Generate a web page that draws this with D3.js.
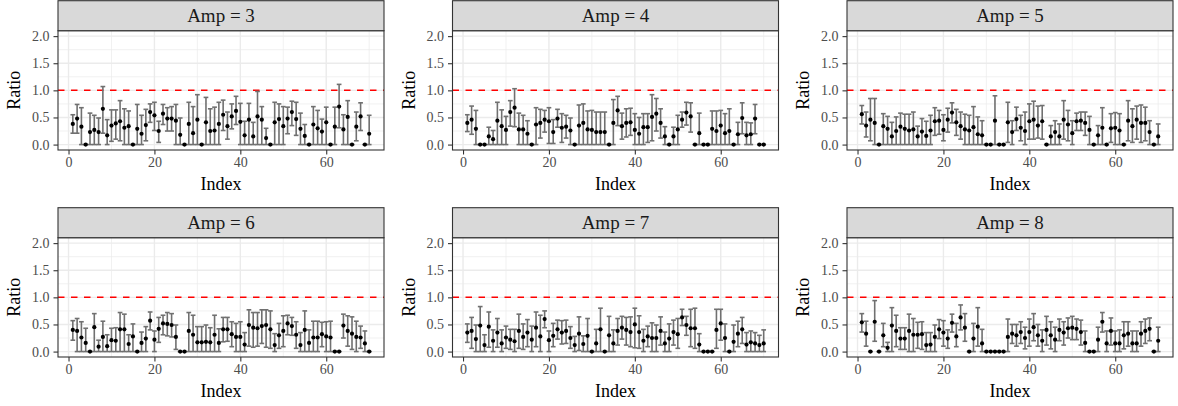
<!DOCTYPE html>
<html>
<head>
<meta charset="utf-8">
<script src="https://cdn.jsdelivr.net/npm/d3@7"></script>
<style>
  body { margin: 0; background: #fff; }
  svg { display: block; }
  text { font-family: "Liberation Serif", "Times New Roman", serif; }
</style>
</head>
<body>
<div id="chart"></div>
<script>
// facets, ticks
var amps = [3, 4, 5, 6, 7, 8];
var indexValues = d3.range(1, 71);
var yTicks = [0, 0.5, 1, 1.5, 2];
var yMinor = [0.25, 0.75, 1.25, 1.75];
var xTicks = [0, 20, 40, 60];
var xMinor = [10, 30, 50, 70];
var refLine = 1;

// Amp = 3
var ratioAmp3 = [0.38,0.48,0.33,0,0.23,0.27,0.23,0.66,0.17,0.35,
  0.39,0.43,0.31,0.34,0,0.29,0.2,0.36,0.6,0.54,
  0.25,0.57,0.48,0.48,0.44,0.18,0,0.38,0.21,0.46,
  0,0.41,0.25,0.26,0.38,0.55,0.34,0.52,0.62,0.42,
  0.17,0.46,0.15,0.52,0.46,0.12,0,0.41,0.47,0.34,
  0.48,0.6,0.47,0.29,0.16,0,0.37,0.3,0.24,0.41,
  0,0.33,0.7,0.28,0.51,0,0.33,0.52,0,0.2];
var upperAmp3 = [0.55,0.74,0.68,0,0.58,0.54,0.49,1.07,0.46,0.64,
  0.64,0.81,0.66,0.62,0,0.74,0.54,0.65,0.75,0.78,
  0.43,0.74,0.68,0.7,0.74,0.49,0,0.78,0.7,0.92,
  0,0.87,0.66,0.69,0.78,0.82,0.6,0.75,0.89,0.76,
  0.43,0.76,0.41,0.98,0.7,0.3,0,0.78,0.75,0.7,
  0.69,0.8,0.78,0.58,0.37,0,0.7,0.63,0.47,0.69,
  0,0.69,1.11,0.55,0.81,0,0.6,0.77,0,0.54];
var lowerAmp3 = [0.21,0.21,0,0,0,0,0,0.21,0,0.06,
  0.1,0.07,0,0,0,0,0,0.07,0.41,0.26,
  0.04,0.37,0.25,0.25,0,0,0,0,0,0,
  0,0,0,0,0,0.26,0.1,0.29,0.37,0,
  0,0,0,0,0,0,0,0,0,0,
  0.2,0.35,0.17,0,0,0,0,0,0,0,
  0,0,0.31,0,0,0,0.07,0.26,0,0];

// Amp = 4
var ratioAmp4 = [0.4,0.46,0.29,0,0,0.15,0.1,0.44,0.34,0.27,
  0.6,0.68,0.28,0.28,0.2,0,0.37,0.4,0.46,0.43,
  0.23,0.48,0.31,0.33,0.26,0,0.35,0.4,0.28,0.27,
  0.23,0.23,0.23,0,0.4,0.63,0.34,0.4,0.41,0.27,
  0.2,0.32,0.32,0.51,0.57,0.4,0.15,0,0.15,0.28,
  0.46,0.59,0.52,0,0.21,0,0,0.29,0.25,0.35,
  0.21,0.25,0,0.19,0.49,0.17,0.19,0.48,0,0];
var upperAmp4 = [0.55,0.71,0.63,0,0,0.32,0.26,0.78,0.64,0.52,
  0.81,1.03,0.58,0.54,0.44,0,0.68,0.65,0.63,0.68,
  0.46,0.65,0.57,0.54,0.49,0,0.73,0.75,0.62,0.63,
  0.6,0.6,0.6,0,0.83,0.89,0.58,0.66,0.67,0.57,
  0.5,0.57,0.57,0.92,0.85,0.66,0.33,0,0.32,0.54,
  0.6,0.78,0.77,0,0.58,0,0,0.62,0.62,0.63,
  0.57,0.66,0,0.41,0.77,0.41,0.4,0.74,0,0];
var lowerAmp4 = [0.24,0.19,0,0,0,0,0,0,0,0,
  0.34,0.33,0,0,0,0,0,0.12,0.23,0.02,
  0.02,0.32,0.04,0.12,0,0,0,0,0,0,
  0,0,0,0,0,0.35,0.1,0.14,0.17,0,
  0,0,0.04,0.07,0.25,0.12,0,0,0,0,
  0.32,0.36,0.23,0,0,0,0,0,0,0,
  0,0,0,0,0.2,0,0,0.2,0,0];

// Amp = 5
var ratioAmp5 = [0.56,0.35,0.46,0.4,0,0.34,0.29,0.15,0.25,0.33,
  0.29,0.26,0.28,0.15,0.24,0.16,0.26,0.43,0.44,0.27,
  0.46,0.59,0.41,0.34,0.28,0.26,0.32,0.19,0.17,0,
  0,0.44,0,0,0.41,0.23,0.47,0.31,0.25,0.43,
  0.46,0.35,0.43,0,0.15,0.23,0.15,0.46,0.37,0.21,
  0.43,0.44,0.4,0.27,0,0.17,0.31,0,0.3,0.31,
  0.26,0,0.44,0.34,0.46,0.4,0.4,0.23,0,0.15];
var upperAmp5 = [0.72,0.6,0.85,0.85,0,0.57,0.52,0.41,0.51,0.58,
  0.56,0.56,0.6,0.34,0.48,0.43,0.54,0.68,0.63,0.55,
  0.67,0.77,0.65,0.6,0.56,0.54,0.7,0.51,0.44,0,
  0,0.9,0,0,0.78,0.44,0.69,0.54,0.6,0.75,
  0.8,0.71,0.72,0,0.35,0.44,0.38,0.81,0.63,0.44,
  0.58,0.6,0.6,0.52,0,0.35,0.68,0,0.57,0.59,
  0.57,0,0.81,0.66,0.71,0.73,0.69,0.44,0,0.38];
var lowerAmp5 = [0.38,0.14,0.07,0,0,0,0,0,0,0,
  0,0,0,0,0,0,0,0.17,0.19,0.07,
  0.23,0.4,0.17,0.1,0,0,0,0,0,0,
  0,0,0,0,0.04,0,0.26,0.07,0,0.1,
  0.1,0.12,0.1,0,0,0,0,0.1,0.07,0,
  0.26,0.26,0.17,0,0,0,0,0,0.04,0,
  0,0,0.07,0.04,0.1,0.04,0.07,0,0,0];

// Amp = 6
var ratioAmp6 = [0.4,0.38,0.26,0.16,0,0.45,0.09,0.27,0.1,0.21,
  0.2,0.41,0.41,0.14,0.28,0,0.16,0.24,0.57,0.22,
  0.42,0.52,0.51,0.49,0.27,0,0,0.38,0.31,0.17,
  0.17,0.18,0.17,0.31,0.16,0.41,0.41,0.32,0.27,0.27,
  0.13,0.49,0.44,0.43,0.47,0.49,0.41,0.12,0.3,0.38,
  0.52,0.47,0.31,0.12,0.4,0.16,0.26,0.26,0.32,0.28,
  0.26,0,0,0.48,0.38,0.33,0.27,0.26,0.15,0];
var upperAmp6 = [0.57,0.61,0.55,0.43,0,0.7,0.21,0.56,0.31,0.43,
  0.44,0.72,0.69,0.31,0.51,0,0.36,0.46,0.73,0.38,
  0.63,0.67,0.72,0.7,0.49,0,0,0.72,0.67,0.46,
  0.46,0.49,0.44,0.67,0.42,0.63,0.63,0.55,0.52,0.55,
  0.35,0.77,0.72,0.72,0.77,0.77,0.75,0.33,0.52,0.66,
  0.67,0.63,0.55,0.35,0.75,0.4,0.56,0.56,0.54,0.55,
  0.56,0,0,0.69,0.66,0.64,0.56,0.47,0.38,0];
var lowerAmp6 = [0.21,0,0,0,0,0,0,0,0,0,
  0,0,0,0,0,0,0,0,0.4,0,
  0.17,0.31,0.29,0.27,0.04,0,0,0,0,0,
  0,0,0,0,0,0.18,0.19,0.09,0,0,
  0,0.1,0.08,0.1,0.15,0.08,0.06,0,0.06,0.09,
  0.31,0.3,0.06,0,0,0,0,0,0.09,0,
  0,0,0,0.25,0.1,0.04,0,0.06,0,0];

// Amp = 7
var ratioAmp7 = [0.35,0.38,0.23,0.48,0.12,0.46,0.2,0.35,0.15,0.26,
  0.22,0.19,0.38,0.27,0.35,0.22,0.44,0.28,0.6,0.21,
  0.29,0.41,0.35,0.38,0.25,0.12,0.33,0.14,0.29,0,
  0.15,0.41,0,0.3,0.15,0.38,0.44,0.4,0.36,0.5,
  0.36,0.2,0.28,0.25,0.25,0.38,0.15,0.24,0.36,0.32,
  0.63,0.49,0.43,0.43,0.13,0,0,0,0.4,0.52,
  0.25,0,0.18,0.33,0.41,0.13,0.17,0.15,0.12,0.15];
var upperAmp7 = [0.51,0.63,0.49,0.83,0.31,0.73,0.4,0.61,0.4,0.47,
  0.41,0.41,0.69,0.51,0.59,0.47,0.73,0.67,0.75,0.38,
  0.52,0.58,0.57,0.58,0.46,0.28,0.64,0.29,0.61,0,
  0.41,0.8,0,0.65,0.4,0.61,0.65,0.63,0.64,0.8,
  0.66,0.41,0.47,0.53,0.49,0.64,0.36,0.51,0.58,0.61,
  0.78,0.65,0.78,0.8,0.33,0,0,0,0.78,0.78,
  0.51,0,0.49,0.56,0.63,0.35,0.38,0.35,0.3,0.4];
var lowerAmp7 = [0.17,0.06,0,0,0,0.08,0,0.08,0,0.06,
  0.04,0,0.06,0.04,0.09,0,0.09,0,0.44,0,
  0.09,0.23,0.14,0.15,0.06,0,0.02,0,0,0,
  0,0,0,0,0,0.12,0.23,0.12,0.09,0.07,
  0.06,0,0.09,0,0,0.12,0,0,0.12,0.06,
  0.48,0.3,0.09,0.06,0,0,0,0,0.06,0.21,
  0,0,0,0.09,0.15,0,0,0,0,0];

// Amp = 8
var ratioAmp8 = [0.54,0.33,0,0.55,0,0.3,0.07,0.48,0.38,0.24,
  0.24,0.38,0.31,0.31,0.32,0.12,0.13,0.27,0.41,0.35,
  0.24,0.53,0.28,0.63,0.44,0,0.24,0.46,0.15,0,
  0,0,0,0,0.27,0.33,0.3,0.36,0.25,0.36,
  0.45,0.3,0.2,0.4,0.3,0.22,0.4,0.35,0.43,0.44,
  0.42,0.36,0.16,0,0,0.22,0.55,0.15,0.38,0.15,
  0.15,0.3,0.33,0.15,0.15,0.33,0.38,0.42,0,0.2];
var upperAmp8 = [0.7,0.56,0,0.94,0,0.52,0.17,0.81,0.67,0.44,
  0.44,0.69,0.61,0.54,0.55,0.35,0.35,0.49,0.59,0.57,
  0.4,0.69,0.52,0.86,0.7,0,0.52,0.81,0.41,0,
  0,0,0,0,0.6,0.5,0.5,0.55,0.45,0.6,
  0.7,0.5,0.4,0.65,0.55,0.45,0.6,0.55,0.62,0.65,
  0.6,0.58,0.38,0,0,0.45,0.72,0.38,0.62,0.38,
  0.4,0.55,0.55,0.38,0.38,0.55,0.6,0.62,0,0.45];
var lowerAmp8 = [0.36,0.1,0,0.19,0,0.09,0,0,0.09,0.04,
  0.04,0,0,0.06,0.04,0,0,0,0.24,0.1,
  0.06,0.36,0.09,0.4,0.19,0,0,0.1,0,0,
  0,0,0,0,0,0.15,0.1,0.15,0.05,0.1,
  0.2,0.1,0,0.12,0.05,0,0.2,0.12,0.25,0.22,
  0.22,0.12,0,0,0,0,0.36,0,0.12,0,
  0,0.05,0.1,0,0,0.1,0.15,0.2,0,0];

var ratios = [ratioAmp3, ratioAmp4, ratioAmp5, ratioAmp6, ratioAmp7, ratioAmp8];
var uppers = [upperAmp3, upperAmp4, upperAmp5, upperAmp6, upperAmp7, upperAmp8];
var lowers = [lowerAmp3, lowerAmp4, lowerAmp5, lowerAmp6, lowerAmp7, lowerAmp8];

var WIDTH = 1178, HEIGHT = 406;
var PANEL_W = 326, PANEL_H = 119.3, STRIP_H = 30;
var COL_LEFT = [58, 452.5, 847];
var ROW_TOP = [30.7, 237.7];
var GRID = "#EBEBEB", DARK = "#333333";
var SERIF = '"Liberation Serif", "Times New Roman", serif';

var x = d3.scaleLinear().domain([-2.45, 73.45]).range([0, PANEL_W]);
var y = d3.scaleLinear().domain([-0.1, 2.1]).range([PANEL_H, 0]);
var capHalf = 0.55; // in index units

var svg = d3.select("#chart").append("svg")
    .attr("width", WIDTH)
    .attr("height", HEIGHT);

amps.forEach(function(amp, k) {
    var rows = indexValues.map(function(idx, i) {
        return { idx: idx, ratio: ratios[k][i], upper: uppers[k][i], lower: lowers[k][i] };
    });

    var g = svg.append("g")
        .attr("transform", "translate(" + COL_LEFT[k % 3] + "," + ROW_TOP[Math.floor(k / 3)] + ")");

    // panel background + grid
    g.append("rect").attr("width", PANEL_W).attr("height", PANEL_H).attr("fill", "#fff");
    g.selectAll(".ymin").data(yMinor).enter().append("line")
        .attr("x1", 0).attr("x2", PANEL_W)
        .attr("y1", y).attr("y2", y)
        .attr("stroke", GRID).attr("stroke-width", 0.7);
    g.selectAll(".xmin").data(xMinor).enter().append("line")
        .attr("y1", 0).attr("y2", PANEL_H)
        .attr("x1", x).attr("x2", x)
        .attr("stroke", GRID).attr("stroke-width", 0.7);
    g.selectAll(".ymaj").data(yTicks).enter().append("line")
        .attr("x1", 0).attr("x2", PANEL_W)
        .attr("y1", y).attr("y2", y)
        .attr("stroke", GRID).attr("stroke-width", 1.4);
    g.selectAll(".xmaj").data(xTicks).enter().append("line")
        .attr("y1", 0).attr("y2", PANEL_H)
        .attr("x1", x).attr("x2", x)
        .attr("stroke", GRID).attr("stroke-width", 1.4);

    // reference line
    g.append("line")
        .attr("x1", 0).attr("x2", PANEL_W)
        .attr("y1", y(refLine)).attr("y2", y(refLine))
        .attr("stroke", "#FF0000").attr("stroke-width", 1.5)
        .attr("stroke-dasharray", "6.5,6.5");

    // error bars
    var eb = g.append("g").attr("stroke", "#707070").attr("stroke-width", 1.6).attr("fill", "none");
    eb.selectAll(".stem").data(rows).enter().append("line")
        .attr("x1", function(d) { return x(d.idx); })
        .attr("x2", function(d) { return x(d.idx); })
        .attr("y1", function(d) { return y(d.lower); })
        .attr("y2", function(d) { return y(d.upper); });
    eb.selectAll(".capTop").data(rows).enter().append("line")
        .attr("x1", function(d) { return x(d.idx - capHalf); })
        .attr("x2", function(d) { return x(d.idx + capHalf); })
        .attr("y1", function(d) { return y(d.upper); })
        .attr("y2", function(d) { return y(d.upper); });
    eb.selectAll(".capBot").data(rows).enter().append("line")
        .attr("x1", function(d) { return x(d.idx - capHalf); })
        .attr("x2", function(d) { return x(d.idx + capHalf); })
        .attr("y1", function(d) { return y(d.lower); })
        .attr("y2", function(d) { return y(d.lower); });

    // points
    g.selectAll(".pt").data(rows).enter().append("circle")
        .attr("cx", function(d) { return x(d.idx); })
        .attr("cy", function(d) { return y(d.ratio); })
        .attr("r", 2.1)
        .attr("fill", "#000");

    // panel border
    g.append("rect").attr("width", PANEL_W).attr("height", PANEL_H)
        .attr("fill", "none").attr("stroke", DARK).attr("stroke-width", 1.1);

    // strip
    g.append("rect")
        .attr("y", -STRIP_H).attr("width", PANEL_W).attr("height", STRIP_H)
        .attr("fill", "#D9D9D9").attr("stroke", DARK).attr("stroke-width", 1.1);
    g.append("text")
        .attr("x", PANEL_W / 2).attr("y", -STRIP_H + 21.5)
        .attr("text-anchor", "middle")
        .attr("font-size", 19).attr("fill", "#1A1A1A")
        .text("Amp = " + amp);

    // axes
    var yAxis = g.append("g")
        .call(d3.axisLeft(y).tickValues(yTicks).tickFormat(d3.format(".1f")).tickSize(4.5).tickPadding(4));
    var xAxis = g.append("g")
        .attr("transform", "translate(0," + PANEL_H + ")")
        .call(d3.axisBottom(x).tickValues(xTicks).tickFormat(d3.format("d")).tickSize(4.5).tickPadding(3));
    [yAxis, xAxis].forEach(function(a) {
        a.attr("font-family", SERIF).attr("font-size", 14);
        a.select(".domain").remove();
        a.selectAll(".tick line").attr("stroke", DARK).attr("stroke-width", 1.1);
        a.selectAll(".tick text")
            .attr("fill", "#4D4D4D")
            .attr("font-size", 14)
            .style("font-family", SERIF);
    });

    // axis titles
    g.append("text")
        .attr("x", PANEL_W / 2).attr("y", PANEL_H + 40)
        .attr("text-anchor", "middle")
        .attr("font-size", 18).attr("fill", "#000")
        .text("Index");
    g.append("text")
        .attr("transform", "translate(-38," + (PANEL_H / 2) + ") rotate(-90)")
        .attr("text-anchor", "middle")
        .attr("font-size", 18).attr("fill", "#000")
        .text("Ratio");
});
</script>
</body>
</html>
